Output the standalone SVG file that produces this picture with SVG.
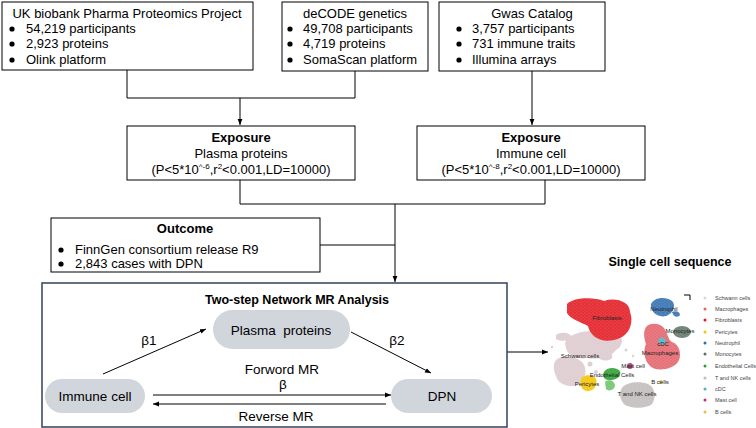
<svg xmlns="http://www.w3.org/2000/svg" width="756" height="428" viewBox="0 0 756 428">
<defs>
<style>
text{font-family:"Liberation Sans",Arial,sans-serif;fill:#000}
.t{font-size:13px}
.b{font-weight:bold}
.box{fill:#fff;stroke:#000;stroke-width:1}
.pill{fill:#d1d5dc}
.ln{fill:none;stroke:#000;stroke-width:1}
.u{font-size:6px;fill:#222}
.lg{font-size:5.5px;fill:#444}
</style>
<marker id="ah" viewBox="0 0 10 10" refX="10" refY="5" markerWidth="6" markerHeight="6" orient="auto" markerUnits="userSpaceOnUse">
<path d="M0,1 L10,5 L0,9 Z" fill="#000"/>
</marker>
<pattern id="dots" width="4" height="3" patternUnits="userSpaceOnUse">
<circle cx="1" cy="1" r="0.6" fill="#fff" fill-opacity="0.25"/>
<circle cx="3" cy="2.4" r="0.5" fill="#fff" fill-opacity="0.2"/>
</pattern>
</defs>
<rect width="756" height="428" fill="#fff"/>

<g id="ukb">
<rect class="box" x="2" y="2" width="251" height="68"/>
<text class="t" x="127" y="18" text-anchor="middle">UK biobank Pharma Proteomics Project</text>
<circle cx="12" cy="29" r="2.6"/><text class="t" x="26" y="33">54,219 participants</text>
<circle cx="12" cy="44" r="2.6"/><text class="t" x="26" y="48">2,923 proteins</text>
<circle cx="12" cy="60" r="2.6"/><text class="t" x="26" y="64">Olink platform</text>
</g>

<g id="decode">
<rect class="box" x="282" y="2" width="146" height="69"/>
<text class="t" x="355" y="18" text-anchor="middle">deCODE genetics</text>
<circle cx="290" cy="29" r="2.6"/><text class="t" x="303" y="33">49,708 participants</text>
<circle cx="290" cy="44" r="2.6"/><text class="t" x="303" y="48">4,719 proteins</text>
<circle cx="290" cy="60" r="2.6"/><text class="t" x="303" y="64">SomaScan platform</text>
</g>

<g id="gwas">
<rect class="box" x="439" y="2" width="166" height="69"/>
<text class="t" x="532" y="18" text-anchor="middle">Gwas Catalog</text>
<circle cx="459" cy="29" r="2.6"/><text class="t" x="472" y="33">3,757 participants</text>
<circle cx="459" cy="44" r="2.6"/><text class="t" x="472" y="48">731 immune traits</text>
<circle cx="459" cy="60" r="2.6"/><text class="t" x="472" y="64">Illumina arrays</text>
</g>

<g id="exposure1">
<rect class="box" x="127" y="126" width="228" height="54"/>
<text class="t b" x="241" y="142" text-anchor="middle">Exposure</text>
<text class="t" x="241" y="158" text-anchor="middle">Plasma proteins</text>
<text class="t" x="241" y="174" text-anchor="middle">(P&lt;5*10<tspan font-size="8" dy="-5">^-6</tspan><tspan dy="5">,r</tspan><tspan font-size="8" dy="-5">2</tspan><tspan dy="5">&lt;0.001,LD=10000)</tspan></text>
</g>

<g id="exposure2">
<rect class="box" x="417" y="126" width="228" height="54"/>
<text class="t b" x="531" y="142" text-anchor="middle">Exposure</text>
<text class="t" x="531" y="158" text-anchor="middle">Immune cell</text>
<text class="t" x="531" y="174" text-anchor="middle">(P&lt;5*10<tspan font-size="8" dy="-5">^-8</tspan><tspan dy="5">,r</tspan><tspan font-size="8" dy="-5">2</tspan><tspan dy="5">&lt;0.001,LD=10000)</tspan></text>
</g>

<g id="outcome">
<rect class="box" x="51" y="218" width="269" height="54"/>
<text class="t b" x="185" y="233" text-anchor="middle">Outcome</text>
<circle cx="61" cy="250" r="2.6"/><text class="t" x="75" y="254">FinnGen consortium release R9</text>
<circle cx="61" cy="264" r="2.6"/><text class="t" x="75" y="268">2,843 cases with DPN</text>
</g>

<g id="connectors">
<path class="ln" d="M127,70 V98 H355 V71"/>
<path class="ln" d="M240,98 V125" marker-end="url(#ah)"/>
<path class="ln" d="M532,71 V125" marker-end="url(#ah)"/>
<path class="ln" d="M240,180 V204 H545 V180"/>
<path class="ln" d="M320,245 H395"/>
<path class="ln" d="M395,204 V282" marker-end="url(#ah)"/>
<path class="ln" d="M507,352 H548" marker-end="url(#ah)"/>
<path class="ln" d="M103,374 L206,329" marker-end="url(#ah)"/>
<path class="ln" d="M351,332 L431,373" marker-end="url(#ah)"/>
<path class="ln" d="M153,395 H391" marker-end="url(#ah)"/>
<path class="ln" d="M386,404 H153" marker-end="url(#ah)"/>
</g>

<g id="mr-analysis">
<rect x="42" y="283" width="465" height="144" fill="none" stroke="#33415e" stroke-width="1.5"/>
<text class="b" x="297" y="304" font-size="12.5" text-anchor="middle">Two-step Network MR Analysis</text>
<text x="149" y="345" font-size="13.5" text-anchor="middle">β1</text>
<text x="397" y="345" font-size="13.5" text-anchor="middle">β2</text>
<text x="282" y="374" font-size="13.5" text-anchor="middle">Forword MR</text>
<text x="283" y="389" font-size="13.5" text-anchor="middle">β</text>
<text x="276" y="421" font-size="13.5" text-anchor="middle">Reverse MR</text>
</g>

<g id="plasma-proteins">
<rect class="pill" x="213" y="310" width="137" height="39" rx="19.5"/>
<text x="281" y="335" font-size="13.5" text-anchor="middle" xml:space="preserve">Plasma  proteins</text>
</g>

<g id="immune-cell">
<rect class="pill" x="45" y="379" width="100" height="34" rx="17"/>
<text x="95" y="401" font-size="13.5" text-anchor="middle">Immune cell</text>
</g>

<g id="dpn">
<rect class="pill" x="391" y="379" width="101" height="34" rx="17"/>
<text x="442" y="401" font-size="13.5" text-anchor="middle">DPN</text>
</g>

<g id="single-cell">
<text class="b" x="670" y="266" font-size="12.5" text-anchor="middle">Single cell sequence</text>
<g opacity="0.9">
<!-- Schwann cells -->
<g fill="#dcc9ce">
<path d="M556,335 C562,331 570,333 572,337 C570,341 560,342 556,339 Z"/>
<path d="M570,337 C580,329 600,330 612,336 C622,338 624,346 616,350 C612,356 600,360 588,358 C576,360 566,354 566,347 C564,342 566,339 570,337 Z"/>
<path d="M556,360 C562,354 576,356 582,362 C588,368 586,380 578,385 C568,388 558,384 556,376 C553,370 553,364 556,360 Z"/>
<path d="M598,352 C606,350 614,353 612,358 C608,362 600,361 598,357 Z"/>
<circle cx="618" cy="341" r="4"/>
<circle cx="600" cy="333" r="3"/>
<circle cx="590" cy="364" r="2.5"/>
<circle cx="596" cy="372" r="2"/>
<circle cx="626" cy="350" r="1.5"/>
<circle cx="552" cy="347" r="1.2"/>
<circle cx="633" cy="356" r="1.2"/>
</g>
<!-- Fibroblasts -->
<path fill="#e31a22" d="M567,304 C574,297 594,297 604,301 C616,297 630,302 630,312 C634,322 630,337 614,340 C600,343 590,336 588,326 C581,322 570,319 567,313 Z"/>
<!-- Neutrophil -->
<path fill="#2f6eb0" d="M651,304 C654,297 666,296 672,301 C676,305 674,313 666,316 C658,318 650,312 651,304 Z"/>
<path fill="#2f6eb0" d="M672,312 C676,310 680,312 680,315 C678,318 673,317 672,312 Z"/>
<!-- Monocytes -->
<ellipse cx="682" cy="332" rx="9" ry="6" fill="#5f7668"/>
<!-- Macrophages -->
<path fill="#e4636b" d="M646,327 C650,322 660,323 664,328 C668,334 668,340 672,342 C680,344 682,356 678,362 C672,370 656,372 650,366 C644,360 643,350 646,344 C644,338 643,332 646,327 Z"/>
<!-- cDC -->
<circle cx="662" cy="341" r="3.5" fill="#47b4cb"/>
<!-- Mast cell -->
<circle cx="630" cy="366" r="3" fill="#b4306c"/>
<!-- Endothelial -->
<path fill="#2aa02e" d="M604,372 C607,367 616,367 620,371 C622,376 616,381 608,380 C603,379 602,375 604,372 Z"/>
<path fill="#6cc46a" d="M605,382 C608,379 614,380 615,385 C615,390 609,392 606,389 Z"/>
<!-- Pericytes -->
<path fill="#f3c400" d="M581,379 C584,374 592,374 596,379 C598,385 594,391 588,391 C582,391 579,385 581,379 Z"/>
<!-- T and NK cells -->
<path fill="#c0bcbc" d="M622,388 C626,382 640,381 648,384 C656,388 656,398 652,404 C646,409 630,409 624,404 C619,398 619,392 622,388 Z"/>
<!-- B cells -->
<circle cx="661" cy="382" r="2" fill="#e2c65a"/>
</g>
<rect x="553" y="296" width="137" height="114" fill="url(#dots)"/>
<path d="M684,295 H690 V300" fill="none" stroke="#000" stroke-width="1"/>
<text class="u" x="607" y="320" text-anchor="middle">Fibroblasts</text>
<text class="u" x="664" y="311" text-anchor="middle">Neutrophil</text>
<text class="u" x="680" y="333" text-anchor="middle">Monocytes</text>
<text class="u" x="663" y="346" text-anchor="middle">cDC</text>
<text class="u" x="660" y="355" text-anchor="middle">Macrophages</text>
<text class="u" x="580" y="358" text-anchor="middle">Schwann cells</text>
<text class="u" x="633" y="368" text-anchor="middle">Mast cell</text>
<text class="u" x="612" y="377" text-anchor="middle">Endothelial Cells</text>
<text class="u" x="587" y="386" text-anchor="middle">Pericytes</text>
<text class="u" x="637" y="396" text-anchor="middle">T and NK cells</text>
<text class="u" x="660" y="384" text-anchor="middle">B cells</text>
<g id="legend">
<circle cx="705" cy="298" r="1.5" fill="#dcd6d8"/><text class="lg" x="715" y="300">Schwann cells</text>
<circle cx="705" cy="309" r="1.5" fill="#e4636b"/><text class="lg" x="715" y="311">Macrophages</text>
<circle cx="705" cy="320" r="1.5" fill="#e31a22"/><text class="lg" x="715" y="322">Fibroblasts</text>
<circle cx="705" cy="332" r="1.5" fill="#f3c400"/><text class="lg" x="715" y="334">Pericytes</text>
<circle cx="705" cy="343" r="1.5" fill="#2f6eb0"/><text class="lg" x="715" y="345">Neutrophil</text>
<circle cx="705" cy="354" r="1.5" fill="#5f6e66"/><text class="lg" x="715" y="356">Monocytes</text>
<circle cx="705" cy="366" r="1.5" fill="#2aa02e"/><text class="lg" x="715" y="368">Endothelial Cells</text>
<circle cx="705" cy="378" r="1.5" fill="#c0bcbc"/><text class="lg" x="715" y="380">T and NK cells</text>
<circle cx="705" cy="389" r="1.5" fill="#47b4cb"/><text class="lg" x="715" y="391">cDC</text>
<circle cx="705" cy="400" r="1.5" fill="#c0306a"/><text class="lg" x="715" y="402">Mast cell</text>
<circle cx="705" cy="412" r="1.5" fill="#e2c040"/><text class="lg" x="715" y="414">B cells</text>
</g>
</g>
</svg>
